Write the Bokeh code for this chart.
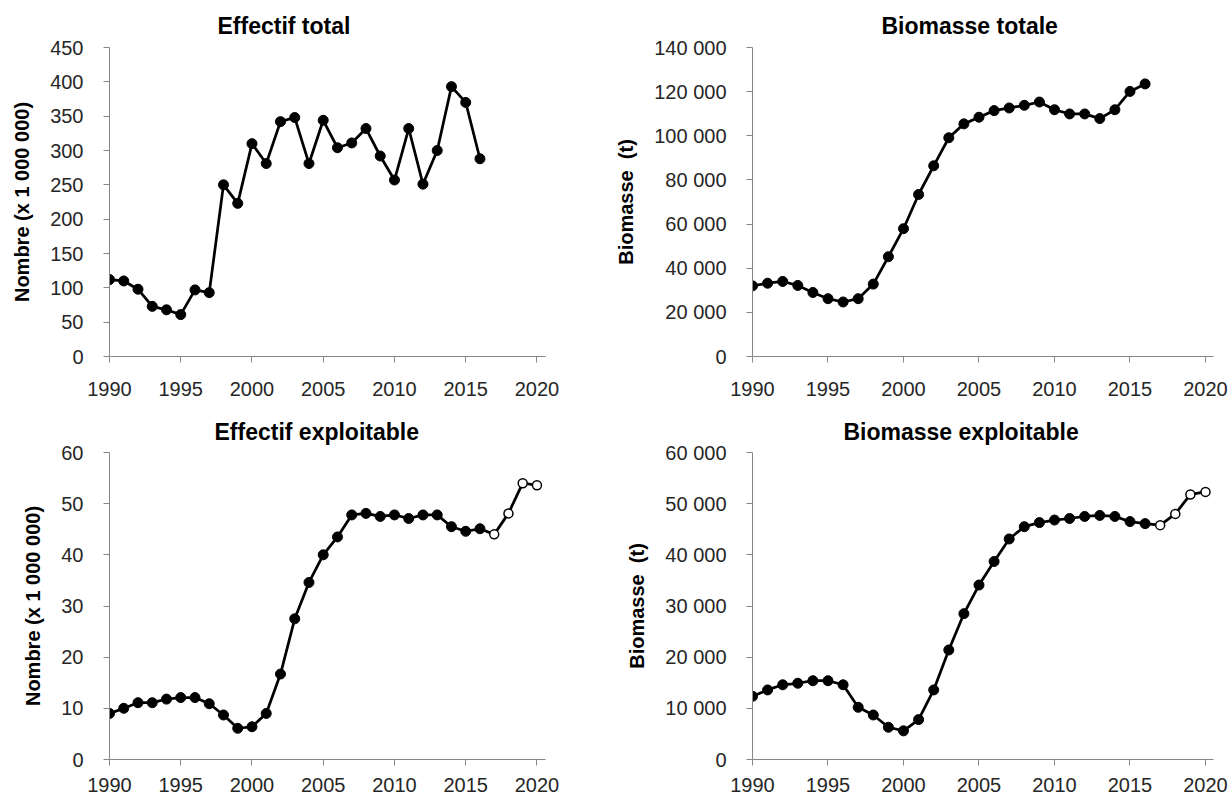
from bokeh.plotting import figure
from bokeh.layouts import column, row
from bokeh.models import Range1d, FixedTicker, CustomJSTickFormatter
from bokeh.embed import file_html
from bokeh.resources import INLINE

# data
years_hist = list(range(1990, 2017))
years_proj = [2017, 2018, 2019, 2020]

effectif_total = [112, 110, 98, 73, 68, 61, 97, 93, 250, 223, 310, 281, 342, 348,
                  281, 344, 304, 311, 332, 292, 257, 332, 251, 300, 393, 370, 288]

biomasse_totale = [32000, 33200, 34000, 32200, 29000, 26200, 24700, 26200, 32800,
                   45200, 57900, 73400, 86400, 99100, 105400, 108400, 111400,
                   112600, 113800, 115300, 111800, 109900, 109900, 107800,
                   111800, 120100, 123500]

effectif_expl = [9.0, 10.0, 11.1, 11.1, 11.8, 12.1, 12.1, 10.9, 8.7, 6.1, 6.4, 9.0,
                 16.7, 27.5, 34.6, 40.0, 43.5, 47.8, 48.1, 47.5, 47.8, 47.1, 47.8,
                 47.8, 45.5, 44.6, 45.1]
effectif_expl_proj = [44.0, 48.1, 54.0, 53.6]

biomasse_expl = [12350, 13600, 14600, 14900, 15400, 15400, 14600, 10200, 8700,
                 6300, 5600, 7800, 13600, 21400, 28500, 34100, 38700, 43100,
                 45500, 46300, 46800, 47100, 47500, 47700, 47500, 46500, 46100]
biomasse_expl_proj = [45800, 48000, 51800, 52300]

x_ticks = [1990, 1995, 2000, 2005, 2010, 2015, 2020]
y_ticks_total = [0, 50, 100, 150, 200, 250, 300, 350, 400, 450]
y_ticks_biom_tot = [0, 20000, 40000, 60000, 80000, 100000, 120000, 140000]
y_ticks_expl = [0, 10, 20, 30, 40, 50, 60]
y_ticks_biom_expl = [0, 10000, 20000, 30000, 40000, 50000, 60000]

FONT = "Liberation Sans"
AXIS_GREY = "#868686"

space_fmt = CustomJSTickFormatter(
    code=r"return String(tick).replace(/\B(?=(\d{3})+(?!\d))/g, ' ');")


def panel(title, ylabel, hist, proj, y_ticks, width, height, x_end,
          borders, title_offset, title_standoff, x_standoff):
    p = figure(width=width, height=height, output_backend="svg",
               toolbar_location=None, tools="",
               x_range=Range1d(1990, x_end),
               y_range=Range1d(y_ticks[0], y_ticks[-1]))
    p.min_border_left, p.min_border_right, p.min_border_top, p.min_border_bottom = borders
    p.title.text = title
    p.title.align = "left"
    p.title.offset = title_offset
    p.title.standoff = title_standoff
    p.title.text_font = FONT
    p.title.text_font_size = "23px"
    p.title.text_font_style = "bold"
    p.title.text_color = "black"

    p.grid.visible = False
    p.outline_line_color = None

    p.xaxis.ticker = FixedTicker(ticks=x_ticks)
    p.yaxis.ticker = FixedTicker(ticks=y_ticks)
    p.yaxis.formatter = space_fmt
    p.axis.axis_line_color = AXIS_GREY
    p.axis.major_tick_line_color = AXIS_GREY
    p.axis.minor_tick_line_color = None
    p.axis.major_tick_out = 6
    p.axis.major_tick_in = 0
    p.axis.major_label_text_font = FONT
    p.axis.major_label_text_font_size = "20px"
    p.axis.major_label_text_color = "#262626"
    p.xaxis.major_label_standoff = x_standoff
    p.yaxis.major_label_standoff = 20
    p.yaxis.axis_label = ylabel
    p.yaxis.axis_label_text_font = FONT
    p.yaxis.axis_label_text_font_size = "20px"
    p.yaxis.axis_label_text_font_style = "bold"
    p.yaxis.axis_label_text_color = "black"
    p.yaxis.axis_label_standoff = 14

    xs = years_hist + (years_proj if proj else [])
    ys = hist + (proj if proj else [])
    p.line(xs, ys, line_width=2.75, color="black")
    p.scatter(years_hist, hist, size=10, color="black")
    if proj:
        p.scatter(years_proj, proj, size=9, fill_color="white",
                  line_color="black", line_width=1.5)
    return p


p1 = panel("Effectif total", "Nombre (x 1 000 000)", effectif_total, None,
           y_ticks_total, 609, 398, 2020.6, (109, 64, 47, 40), 108, 18, 19)
p2 = panel("Biomasse totale", "Biomasse\u00a0 (t)", biomasse_totale, None,
           y_ticks_biom_tot, 619, 398, 2020.53, (143, 15, 47, 40), 129, 18, 19)
p3 = panel("Effectif exploitable", "Nombre (x 1 000 000)", effectif_expl,
           effectif_expl_proj, y_ticks_expl, 609, 399, 2020.6,
           (109, 64, 54, 38), 105, 16, 12)
p4 = panel("Biomasse exploitable", "Biomasse\u00a0 (t)", biomasse_expl,
           biomasse_expl_proj, y_ticks_biom_expl, 619, 399, 2020.53,
           (143, 15, 54, 38), 91, 16, 12)

layout = column(row(p1, p2), row(p3, p4))

open("out.html", "w").write(file_html(layout, INLINE))
